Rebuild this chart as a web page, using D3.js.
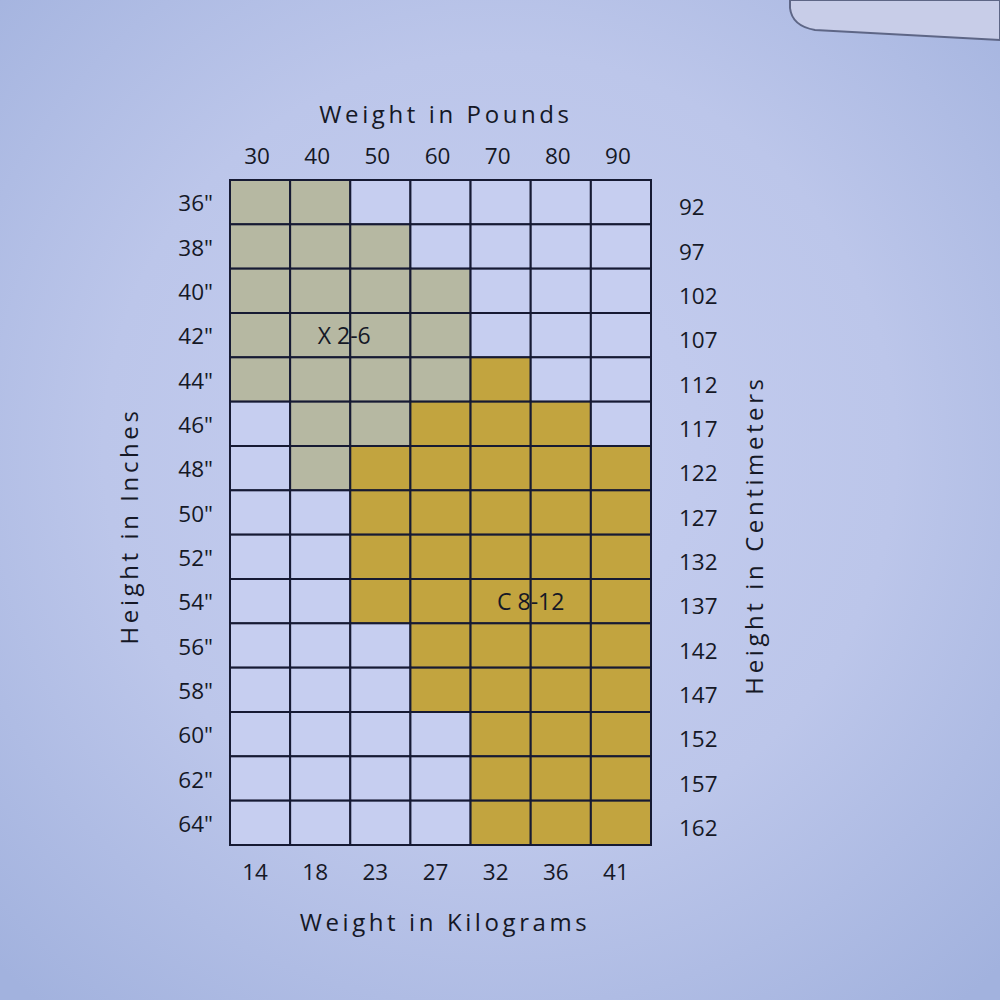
<!DOCTYPE html>
<html><head><meta charset="utf-8">
<script src="https://cdn.jsdelivr.net/npm/d3@7"></script>
<style>
html,body{margin:0;padding:0;background:#bcc6ea;}
svg{display:block;}
text{font-family:"Open Sans","Noto Sans",sans-serif;fill:#151826;}
</style></head>
<body><svg id="c" width="1000" height="1000"></svg>
<script>
const pounds = ["30","40","50","60","70","80","90"];
const kilograms = ["14","18","23","27","32","36","41"];
const inches = ['36"','38"','40"','42"','44"','46"','48"','50"','52"','54"','56"','58"','60"','62"','64"'];
const centimeters = ["92","97","102","107","112","117","122","127","132","137","142","147","152","157","162"];
// size code per row (height) and column (weight): X = X 2-6, C = C 8-12, "." = none
const sizeRows = [
  "XX.....",
  "XXX....",
  "XXXX...",
  "XXXX...",
  "XXXXC..",
  ".XXCCC.",
  ".XCCCCC",
  "..CCCCC",
  "..CCCCC",
  "..CCCCC",
  "...CCCC",
  "...CCCC",
  "....CCC",
  "....CCC",
  "....CCC"
];
const sizeNames = {X:"X 2-6", C:"C 8-12"};
const sizeLabelCells = {X:[3,1.4], C:[9,4.5]};

const svg = d3.select("#c");
const defs = svg.append("defs");
const g0 = defs.append("radialGradient").attr("id","bg").attr("cx","50%").attr("cy","45%").attr("r","72%");
g0.append("stop").attr("offset","0%").attr("stop-color","#c6cef0");
g0.append("stop").attr("offset","55%").attr("stop-color","#bcc6ea");
g0.append("stop").attr("offset","100%").attr("stop-color","#a2b2de");
svg.append("rect").attr("width",1000).attr("height",1000).attr("fill","url(#bg)");
// object at top right corner
svg.append("path").attr("d","M790,0 L790,8 Q792,26 815,30 L1000,40 L1000,0 Z")
  .attr("fill","#c8cde8").attr("stroke","#5e6686").attr("stroke-width",2);

const x = d3.scaleBand().domain(pounds).range([230,651]);
const xKg = d3.scaleBand().domain(kilograms).range([230,651]);
const y = d3.scaleBand().domain(inches).range([180,845]);
const yCm = d3.scaleBand().domain(centimeters).range([180,845]);
const fill = {X:"#b6b8a2", C:"#c2a43f", ".":"#c6cef0"};

const cells = [];
sizeRows.forEach((row,i)=>row.split("").forEach((c,j)=>cells.push({r:inches[i], c:pounds[j], s:c})));
svg.append("g").selectAll("rect").data(cells).join("rect")
  .attr("x",d=>x(d.c)).attr("y",d=>y(d.r))
  .attr("width",x.bandwidth()).attr("height",y.bandwidth())
  .attr("fill",d=>fill[d.s]).attr("stroke","#161a33").attr("stroke-width",2);

Object.keys(sizeNames).forEach(k=>{
  const [ri,ci] = sizeLabelCells[k];
  svg.append("text").attr("x",230 + x.step()*(ci+0.5)).attr("y",180 + y.step()*(ri+0.5))
    .attr("text-anchor","middle").attr("dominant-baseline","central")
    .attr("font-size",23).text(sizeNames[k]);
});

const tickFont = 22.5;
const style = s=>s.selectAll("text").attr("font-size",tickFont).attr("font-family","Open Sans, Noto Sans, sans-serif").attr("fill","#151826");
svg.append("g").attr("transform","translate(-3,164)")
  .call(d3.axisTop(x).tickSize(0).tickPadding(0))
  .call(g=>g.select(".domain").remove()).call(style);
svg.append("g").attr("transform","translate(-5,864)")
  .call(d3.axisBottom(xKg).tickSize(0).tickPadding(0))
  .call(g=>g.select(".domain").remove()).call(style);
svg.append("g").attr("transform","translate(213,2)")
  .call(d3.axisLeft(y).tickSize(0).tickPadding(0))
  .call(g=>g.select(".domain").remove()).call(style);
svg.append("g").attr("transform","translate(679,6)")
  .call(d3.axisRight(yCm).tickSize(0).tickPadding(0))
  .call(g=>g.select(".domain").remove()).call(style);

const ttl = (txt,tx,ty,rot)=>svg.append("text").attr("transform",`translate(${tx},${ty}) rotate(${rot})`)
  .attr("text-anchor","middle").attr("dominant-baseline","central")
  .attr("font-size",24).attr("letter-spacing","3.6px").text(txt);
ttl("Weight in Pounds",446,113,0);
ttl("Weight in Kilograms",445,921,0);
ttl("Height in Inches",128,526,-90);
ttl("Height in Centimeters",753,535,-90);
</script></body></html>
